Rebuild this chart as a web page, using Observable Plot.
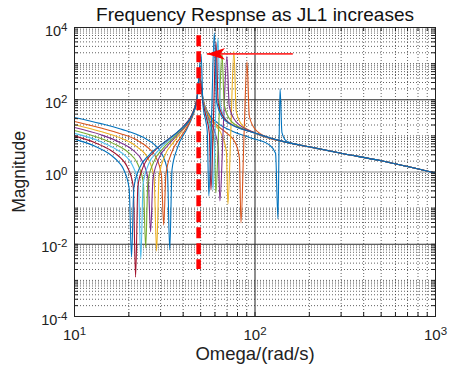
<!DOCTYPE html>
<html>
<head>
<meta charset="utf-8">
<script src="https://cdn.jsdelivr.net/npm/d3@7"></script>
<script src="https://cdn.jsdelivr.net/npm/@observablehq/plot@0.6"></script>
<style>
  html, body { margin: 0; padding: 0; background: #ffffff; }
  #chart { width: 449px; height: 365px; }
</style>
</head>
<body>
<div id="chart"></div>
<script>
// ---------- text ----------
const titleText = "Frequency Respnse as JL1 increases";
const xLabelText = "Omega/(rad/s)";
const yLabelText = "Magnitude";

// ---------- axes / ticks ----------
const xDomain = [10, 1000];
const yDomain = [1e-4, 1e4];
const xTickExp = [1, 2, 3];
const yTickExp = [-4, -2, 0, 2, 4];
const xDecadeExp = [1, 2];
const yDecadeExp = [-4, -3, -2, -1, 0, 1, 2, 3];
const minorMult = [2, 3, 4, 5, 6, 7, 8, 9];

// MATLAB default line colours, in plotting order
const lineColors = ["#0072BD", "#D95319", "#EDB120", "#7E2F8E", "#77AC30", "#4DBEEE", "#A2142F", "#0072BD"];

// ---------- series: omega (rad/s) and log10(magnitude) ----------
const w1 = [10, 14, 18, 24, 28, 30.3, 32.7, 33.7, 34.7, 37, 42, 45, 47.5, 49.5, 51.5, 55, 62, 75, 95, 120, 130, 134, 136, 137.7, 141, 150, 200, 300, 500, 1000];
const lg1 = [1.51, 1.34, 1.19, 0.96, 0.74, 0.53, 0.04, -2.16, 0.07, 0.64, 1.20, 1.53, 1.95, 2.65, 2.03, 1.64, 1.36, 1.13, 0.94, 0.75, 0.52, -1.30, 0.85, 2.30, 1.09, 0.85, 0.69, 0.52, 0.31, -0.03];

const w2 = [10, 14, 18, 22, 26, 28.1, 30.3, 31.2, 32.1, 34.3, 39, 45, 47.5, 49.5, 51.5, 55, 62, 70, 77.8, 82, 83.6, 87, 90.3, 93, 100, 120, 150, 200, 300, 500, 1000];
const lg2 = [1.40, 1.22, 1.06, 0.89, 0.64, 0.43, -0.08, -1.47, -0.06, 0.50, 0.99, 1.55, 1.95, 2.60, 2.01, 1.60, 1.28, 1.07, 0.81, 0.38, -1.41, 1.06, 3.05, 1.55, 1.19, 0.94, 0.82, 0.69, 0.52, 0.31, -0.03];

const w3 = [10, 14, 18, 22, 25.65, 27.6, 28.5, 29.4, 31.35, 35.6, 40, 45, 47.5, 49.5, 51.5, 55, 60, 65.8, 69.4, 70.8, 73.5, 76.4, 78.7, 85, 100, 150, 200, 300, 500, 1000];
const lg3 = [1.31, 1.12, 0.94, 0.71, 0.36, -0.16, -2.19, -0.14, 0.40, 0.84, 1.17, 1.59, 1.98, 2.60, 2.02, 1.59, 1.30, 1.00, 0.57, -0.89, 1.17, 3.35, 1.68, 1.29, 1.08, 0.82, 0.70, 0.52, 0.31, -0.03];

const w4 = [10, 14, 18, 21, 23.76, 25.6, 26.4, 27.2, 29, 33, 38, 45, 47.5, 49.5, 51.5, 55, 59.4, 62.6, 63.9, 66.8, 69.9, 72, 78, 100, 150, 200, 300, 500, 1000];
const lg4 = [1.23, 1.03, 0.81, 0.61, 0.30, -0.22, -1.66, -0.21, 0.32, 0.74, 1.08, 1.60, 1.98, 2.60, 1.99, 1.52, 1.16, 0.67, -0.80, 1.30, 3.20, 1.83, 1.41, 1.08, 0.82, 0.70, 0.52, 0.31, -0.03];

const w5 = [10, 14, 18, 20, 22.3, 24.06, 24.8, 25.5, 27.3, 31, 38, 45, 47.5, 49.5, 51.5, 54, 56.5, 59.5, 60.7, 63.1, 65.6, 67.6, 72, 75, 100, 150, 200, 300, 500, 1000];
const lg5 = [1.15, 0.93, 0.69, 0.53, 0.24, -0.29, -2.10, -0.28, 0.25, 0.66, 1.11, 1.61, 1.98, 2.60, 1.97, 1.58, 1.32, 0.82, -0.58, 1.39, 3.30, 1.85, 1.48, 1.37, 1.08, 0.82, 0.70, 0.52, 0.31, -0.03];

const w6 = [10, 14, 17, 19, 20.97, 22.6, 23.3, 24, 25.6, 29.1, 35, 40, 45, 47.5, 49.5, 51.5, 54.4, 57.3, 58.5, 60.4, 62.3, 64.2, 72, 100, 150, 200, 300, 500, 1000];
const lg6 = [1.07, 0.84, 0.63, 0.46, 0.18, -0.34, -2.41, -0.34, 0.19, 0.59, 0.97, 1.25, 1.61, 1.98, 2.60, 1.96, 1.49, 0.96, -0.50, 1.46, 3.71, 1.84, 1.35, 1.08, 0.82, 0.70, 0.52, 0.31, -0.03];

const w7 = [10, 13, 16, 18, 19.62, 21.15, 21.8, 22.45, 24, 27.25, 33, 40, 45, 47.5, 49.5, 51.5, 53, 55.9, 57, 58.9, 60.8, 62.6, 70, 100, 150, 200, 300, 500, 1000];
const lg7 = [1.00, 0.81, 0.59, 0.39, 0.14, -0.39, -2.91, -0.39, 0.14, 0.54, 0.90, 1.26, 1.62, 1.98, 2.60, 1.93, 1.63, 1.05, -0.50, 1.54, 3.60, 1.89, 1.40, 1.08, 0.82, 0.70, 0.52, 0.31, -0.03];

const w8 = [10, 13, 16, 17.5, 18.63, 20.08, 20.7, 21.32, 22.77, 25.9, 31, 38, 45, 47.5, 50.3, 51.5, 53.5, 54.4, 55.5, 57.5, 59.5, 61.3, 68, 100, 150, 200, 300, 500, 1000];
const lg8 = [0.91, 0.71, 0.46, 0.28, 0.09, -0.45, -2.35, -0.45, 0.08, 0.47, 0.80, 1.15, 1.59, 1.94, 3.25, 1.84, 1.38, 1.11, -0.66, 1.58, 3.85, 1.94, 1.43, 1.08, 0.82, 0.70, 0.52, 0.31, -0.03];

// ---------- annotations (data coordinates) ----------
const markerOmega = [48.7];          // red dashed line
const markerMagRange = [5900, 0.002];
const arrowFrom = { w: 162, m: 1860 };
const arrowTo = { w: 54.1, m: 1860 };

// ---------- build tables ----------
const omegas = [w1, w2, w3, w4, w5, w6, w7, w8];
const logMags = [lg1, lg2, lg3, lg4, lg5, lg6, lg7, lg8];
const curves = omegas.map((ws, i) => ws.map((w, j) => ({ w, m: Math.pow(10, logMags[i][j]) })));

const xMajor = xTickExp.map(e => Math.pow(10, e));
const yMajor = yTickExp.map(e => Math.pow(10, e));
const xMinor = xDecadeExp.flatMap(e => minorMult.map(k => k * Math.pow(10, e)));
const yMinor = yDecadeExp.flatMap(e => [1, ...minorMult].map(k => k * Math.pow(10, e)))
  .filter(v => !yTickExp.some(e => Math.abs(Math.log10(v) - e) < 1e-9));
const xAllTicks = [...xMajor, ...xMinor];
const yAllTicks = [...yMajor, ...yMinor];

// ---------- layout ----------
const W = 449, H = 365;
const mL = 74, mR = 14, mT = 27, mB = 49;
const plotW = W - mL - mR, plotH = H - mT - mB;
const tickLen = 4;
const font = "'Liberation Sans', Arial, Helvetica, sans-serif";
const gridColor = "#3a3a3a";
const axisColor = "#222222";

// notched arrow head, tip at origin, pointing left
const arrowHead = {
  draw(ctx, size) {
    const s = Math.sqrt(size / Math.PI);
    ctx.moveTo(0, 0);
    ctx.lineTo(2.6 * s, -0.85 * s);
    ctx.lineTo(1.9 * s, 0);
    ctx.lineTo(2.6 * s, 0.85 * s);
    ctx.closePath();
  }
};

const expLabel = e => "10^" + e;

const chart = Plot.plot({
  width: W,
  height: H,
  marginLeft: mL,
  marginRight: mR,
  marginTop: mT,
  marginBottom: mB,
  x: { type: "log", domain: xDomain, axis: null },
  y: { type: "log", domain: yDomain, axis: null },
  style: { fontFamily: font, background: "#ffffff", color: "#222" },
  marks: [
    // minor dotted grid
    Plot.ruleX(xMinor, { stroke: gridColor, strokeWidth: 0.8, strokeDasharray: "1,2" }),
    Plot.ruleY(yMinor, { stroke: gridColor, strokeWidth: 0.8, strokeDasharray: "1,2" }),
    // major grid
    Plot.ruleX([100], { stroke: "#1e1e1e", strokeWidth: 1 }),
    Plot.ruleY([1e-2, 1e2], { stroke: "#2e2e2e", strokeWidth: 1 }),
    Plot.ruleY([1], { stroke: "#8a8a8a", strokeWidth: 1 }),
    // curves
    ...curves.map((c, i) => Plot.line(c, {
      x: "w", y: "m", stroke: lineColors[i], strokeWidth: 1.1, curve: "monotone-x"
    })),
    // red dashed marker
    Plot.ruleX(markerOmega, {
      y1: markerMagRange[0], y2: markerMagRange[1],
      stroke: "#ff0000", strokeWidth: 4.5, strokeDasharray: "11,5"
    }),
    // arrow
    Plot.link([{ a: arrowFrom, b: arrowTo }], {
      x1: d => d.a.w, y1: d => d.a.m, x2: d => d.b.w, y2: d => d.b.m,
      stroke: "#ff3030", strokeWidth: 1.6
    }),
    Plot.dot([arrowTo], { x: "w", y: "m", symbol: arrowHead, r: 7, fill: "#ff0000", stroke: "none" }),
    // frame
    Plot.frame({ stroke: axisColor, strokeWidth: 1 }),
    // inward ticks (all four sides)
    Plot.ruleX(xAllTicks, { insetTop: plotH - tickLen, stroke: axisColor }),
    Plot.ruleX(xAllTicks, { insetBottom: plotH - tickLen, stroke: axisColor }),
    Plot.ruleY(yAllTicks, { insetRight: plotW - tickLen, stroke: axisColor }),
    Plot.ruleY(yAllTicks, { insetLeft: plotW - tickLen, stroke: axisColor }),
    // tick labels
    Plot.text(xTickExp, {
      x: e => Math.pow(10, e), frameAnchor: "bottom", dy: 23.5,
      text: expLabel, fontSize: 15, fill: "#222", textAnchor: "middle"
    }),
    Plot.text(yTickExp, {
      y: e => Math.pow(10, e), frameAnchor: "left", dx: -7, dy: 3.5,
      text: expLabel, fontSize: 14.5, fill: "#222", textAnchor: "end"
    }),
    // title and axis labels
    Plot.text([titleText], { frameAnchor: "top", dy: -20, fontSize: 19, fill: "#111", textAnchor: "middle" }),
    Plot.text([xLabelText], { frameAnchor: "bottom", dy: 43, fontSize: 18.5, fill: "#222", textAnchor: "middle" }),
    Plot.text([yLabelText], { frameAnchor: "left", dx: -55, rotate: -90, fontSize: 17.5, fill: "#222", textAnchor: "middle", lineAnchor: "middle" })
  ]
});

// superscripts for "10^k" labels
chart.querySelectorAll("text").forEach(t => {
  const m = /^10\^(-?\d+)$/.exec(t.textContent);
  if (m) {
    const sup = m[1];
    t.textContent = "";
    const ns = "http://www.w3.org/2000/svg";
    const a = document.createElementNS(ns, "tspan");
    a.textContent = "10";
    const b = document.createElementNS(ns, "tspan");
    b.textContent = sup;
    b.setAttribute("dy", "-5");
    b.setAttribute("font-size", "11.5");
    t.appendChild(a);
    t.appendChild(b);
  }
});

document.getElementById("chart").appendChild(chart);
</script>
</body>
</html>
